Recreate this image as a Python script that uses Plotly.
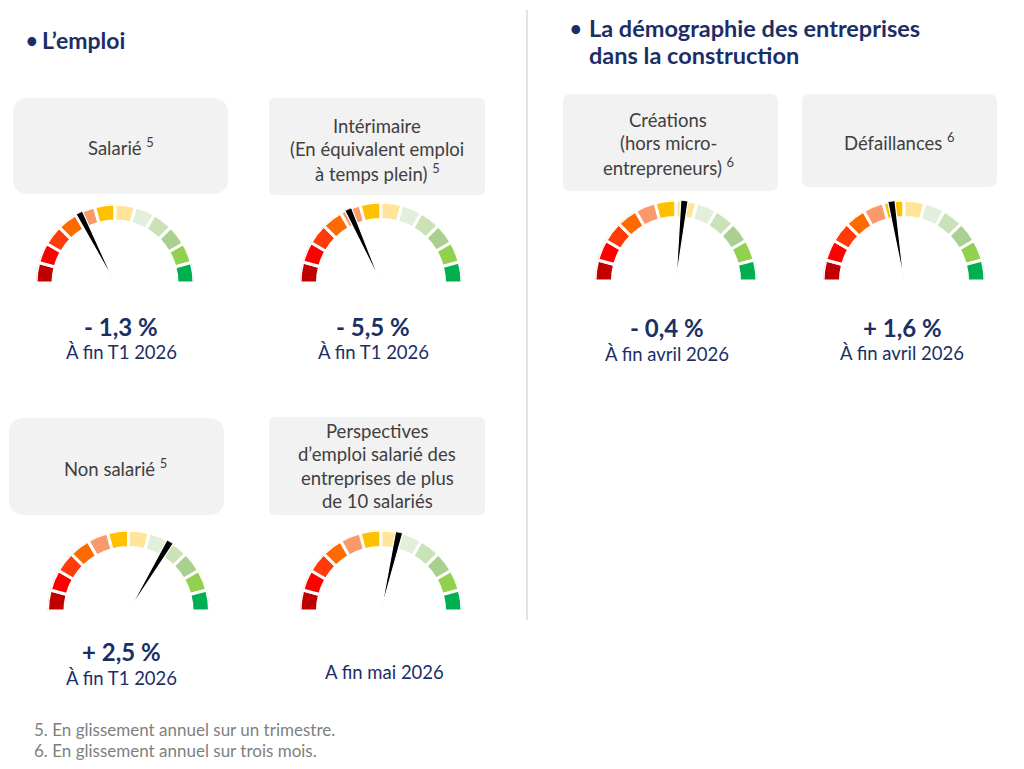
import plotly.graph_objects as go

W, H = 1024, 769

# gauge segments (left to right)
segment_colors = ["#C00000", "#FF0000", "#FF3B0A", "#FF6A00", "#FA9A6A", "#FFC000",
                  "#FFE49A", "#E2EFDA", "#C9E2B8", "#A9D08E", "#92D050", "#00B050"]
segment_theta = [7.5, 22.5, 37.5, 52.5, 67.5, 82.5, 97.5, 112.5, 127.5, 142.5, 157.5, 172.5]

# one entry per gauge
gauge_titles = [
    ["Salarié <sup>5</sup>"],
    ["Intérimaire", "(En équivalent emploi", "à temps plein) <sup>5</sup>"],
    ["Non salarié <sup>5</sup>"],
    ["Perspectives", "d’emploi salarié des", "entreprises de plus", "de 10 salariés"],
    ["Créations", "(hors micro-", "entrepreneurs) <sup>6</sup>"],
    ["Défaillances <sup>6</sup>"],
]
value_labels = ["- 1,3 %", "- 5,5 %", "+ 2,5 %", "", "- 0,4 %", "+ 1,6 %"]
period_labels = ["À fin T1 2026", "À fin T1 2026", "À fin T1 2026", "A fin mai 2026",
                 "À fin avril 2026", "À fin avril 2026"]
needle_deg = [63, 66, 121, 103, 96, 81]   # needle position, degrees from the left end

footnotes = ["5. En glissement annuel sur un trimestre.",
             "6. En glissement annuel sur trois mois."]

# layout in pixels
gauge_pos = [(115, 283, 79), (381, 283, 81), (128.5, 611, 81),
             (381, 611, 81), (676, 281, 81), (904, 281, 81)]
box_pos = [(13, 98, 228, 194, 16), (269, 98, 485, 195, 6), (9, 418, 224, 515, 16),
           (269, 417, 485, 515, 6), (563, 94, 778, 191, 8), (802, 94, 997, 187, 8)]
title_pos = [(121, 146), (377, 149), (115, 467), (377, 466), (668, 143), (899, 141)]
value_pos = [(121, 326), (373, 326), (121, 651), (384, 651), (667, 327), (902, 327)]
period_pos = [(121, 352), (373, 352), (121, 678), (384, 672), (667, 354), (902, 353)]
LINE_STEP = 23.5

FONT = "Lato"
NAVY = "#1B2F66"
GREY_TXT = "#404040"


def rounded_rect(x0, y0, x1, y1, r):
    return (f"M{x0+r},{y0} L{x1-r},{y0} Q{x1},{y0} {x1},{y0+r} L{x1},{y1-r} "
            f"Q{x1},{y1} {x1-r},{y1} L{x0+r},{y1} Q{x0},{y1} {x0},{y1-r} "
            f"L{x0},{y0+r} Q{x0},{y0} {x0+r},{y0} Z")


def text(x, y, s, size, color, anchor="center", bold=False):
    return dict(x=x, y=y, text=f"<b>{s}</b>" if bold else s, showarrow=False,
                xref="x", yref="y", xanchor=anchor, yanchor="middle", align=anchor,
                font=dict(family=FONT, size=size, color=color))


fig = go.Figure()
layout_polars = {}
shapes = []
annotations = []

for i in range(len(gauge_titles)):
    name = "polar" if i == 0 else f"polar{i+1}"
    cx, by, R = gauge_pos[i]
    fig.add_trace(go.Barpolar(
        theta=segment_theta, r=[0.215] * 12, base=0.785, width=15,
        marker=dict(color=segment_colors, line=dict(color="white", width=3)),
        subplot=name, showlegend=False, hoverinfo="skip"))
    a = needle_deg[i]
    fig.add_trace(go.Scatterpolar(
        r=[0.0, 1.0, 1.0, 0.0], theta=[a, a - 2.6, a + 2.6, a],
        mode="lines", fill="toself", fillcolor="black",
        line=dict(color="white", width=1.2),
        subplot=name, showlegend=False, hoverinfo="skip"))
    layout_polars[name] = dict(
        domain=dict(x=[(cx - R) / W, (cx + R) / W], y=[(H - by) / H, (H - by + R) / H]),
        sector=[0, 180], hole=0, bgcolor="rgba(0,0,0,0)",
        radialaxis=dict(range=[0, 1], visible=False, showgrid=False),
        angularaxis=dict(direction="clockwise", rotation=180, visible=False, showgrid=False),
    )

    x0, y0, x1, y1, rad = box_pos[i]
    shapes.append(dict(type="path", path=rounded_rect(x0, y0, x1, y1, rad),
                       xref="x", yref="y", fillcolor="#F2F2F2", line=dict(width=0),
                       layer="below"))
    tx, ty = title_pos[i]
    lines = gauge_titles[i]
    for k, ln in enumerate(lines):
        annotations.append(text(tx, ty + (k - (len(lines) - 1) / 2) * LINE_STEP, ln, 18.5, GREY_TXT))
    if value_labels[i]:
        vx, vy = value_pos[i]
        annotations.append(text(vx, vy, value_labels[i], 24, NAVY, bold=True))
    px_, py_ = period_pos[i]
    annotations.append(text(px_, py_, period_labels[i], 18.5, NAVY))

# section titles
annotations.append(text(24, 40, "•", 20, NAVY, anchor="left", bold=True))
annotations.append(text(40, 40, "L’emploi", 23, NAVY, anchor="left", bold=True))
annotations.append(text(568, 28, "•", 20, NAVY, anchor="left", bold=True))
annotations.append(text(587, 28, "La démographie des entreprises", 23.5, NAVY, anchor="left", bold=True))
annotations.append(text(587, 55, "dans la construction", 23.5, NAVY, anchor="left", bold=True))

# footnotes
for k, note in enumerate(footnotes):
    annotations.append(text(32, 729 + 21 * k, note, 17, "#7F7F7F", anchor="left"))

# vertical divider
shapes.append(dict(type="line", x0=527, x1=527, y0=10, y1=620, xref="x", yref="y",
                   line=dict(color="#D9D9D9", width=1.5)))

fig.update_layout(
    width=W, height=H, margin=dict(l=0, r=0, t=0, b=0),
    paper_bgcolor="white", plot_bgcolor="white",
    xaxis=dict(range=[0, W], visible=False, domain=[0, 1], fixedrange=True),
    yaxis=dict(range=[H, 0], visible=False, domain=[0, 1], fixedrange=True),
    shapes=shapes, annotations=annotations,
    **layout_polars,
)

fig.write_html("out.html", config={"displayModeBar": False},
               post_script="document.body.style.margin='0';")
